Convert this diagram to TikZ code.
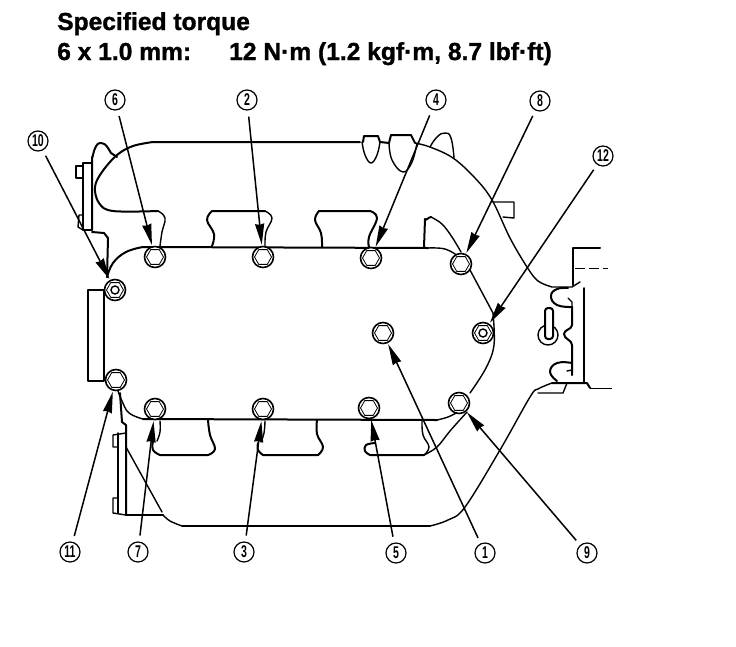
\documentclass[tikz,border=0pt]{standalone}
\usepackage{fontspec}
\setmainfont{Liberation Sans}[BoldFeatures={FakeBold=1.2}]
\newfontfamily\numfont[FakeStretch=0.62]{Liberation Sans}
\usetikzlibrary{arrows.meta,shapes.geometric}

\begin{document}
\begin{tikzpicture}[x=1pt,y=-1pt,
        outline/.style={line width=1.4pt,line join=round,line cap=round},
        heavy/.style={line width=2pt,line join=round,line cap=round},
        fine/.style={line width=0.8pt},
        heading/.style={anchor=base west,inner sep=0pt,font=\bfseries\fontsize{24.6}{24.6}\selectfont},
        hexnut/.style={regular polygon,regular polygon sides=6,draw,line width=0.8pt,
                        inner sep=0pt,minimum size=17pt},
        bolt/.style={circle,draw,fill=white,line width=1.6pt,inner sep=0pt,minimum size=21pt,
                        path picture={\node[hexnut] at (path picture bounding box.center) {};}},
        boltnut/.style={bolt,path picture={\node[hexnut] at (path picture bounding box.center) {};
                        \node[circle,draw,line width=1.4pt,inner sep=0pt,minimum size=8pt]
                        at (path picture bounding box.center) {};}},
        numlabel/.style={circle,draw,line width=1.2pt,inner sep=0pt,minimum size=20pt,
                        font=\numfont\bfseries\fontsize{17}{17}\selectfont},
        pointer/.style={-{Stealth[length=21pt,width=9pt,inset=1pt]},line width=1.5pt,
                        shorten <=6pt,shorten >=1pt}]
        \useasboundingbox (0,0) rectangle (736,646);

        % heading
        \node (title) at (57,30) [heading] {Specified torque};
        \node (size) at (57,60) [heading] {6 x 1.0 mm:};
        \node (spec) at (229,60) [heading] {12 N·m (1.2 kgf·m, 8.7 lbf·ft)};

        % upper manifold
        \draw[heavy] plot[smooth,tension=.6] coordinates {(158,211) (113,211) (99,203) (95,187) (102,172) (117,155) (133,146) (153,142)} -- (360,142);
        \draw[heavy] (363,142) -- (364,136) -- (378,136) -- (380,142) -- (389,143) -- (391,135) -- (411,135) -- (415,143);
        \draw[outline] plot[smooth,tension=.7] coordinates {(362,142) (365,155) (371,163) (377,155) (380,142)};
        \draw[outline] plot[smooth,tension=.7] coordinates {(389,143) (392,160) (403,172) (412,162) (417,143)};
        \draw[outline] plot[smooth,tension=.6] coordinates {(415,143) (430,147) (453,158) (475,178) (492,200) (510,238) (527,267) (538,281) (552,287)} -- (572,287) -- (580,282);
        \draw[outline] plot[smooth,tension=.8] coordinates {(430,147) (437,137) (445,133) (451,138) (454,158)};
        \draw[outline] (493,202) -- (514,202) -- (514,218) -- (503,217);

        % left flange
        \draw[heavy] (92,230) -- (92,157) to[out=-90,in=180] (100,143) to[out=0,in=120] (108,148) -- (111,153) -- (117,157);
        \draw[outline] (92,163) -- (83,163) -- (83,230) -- (92,230);
        \draw[outline] (83,166) -- (76,166) -- (76,178) -- (83,178);
        \draw[outline] (83,215) -- (79,215) -- (78,227) -- (83,230);
        \draw[heavy] (92,232) -- (104,233) -- (108,238) -- (107,277);

        % top runners
        \draw[outline] plot[smooth,tension=.7] coordinates {(158,211) (165,218) (162,232) (160,246)};
        \draw[heavy] plot[smooth,tension=.7] coordinates {(212,246) (214,234) (207,220) (212,211)} -- (265,211);
        \draw[outline] plot[smooth,tension=.7] coordinates {(265,211) (272,218) (266,232) (265,246)};
        \draw[heavy] plot[smooth,tension=.7] coordinates {(322,247) (321,233) (315,220) (319,211)} -- (370,211);
        \draw[heavy] plot[smooth,tension=.7] coordinates {(370,211) (377,218) (369,237) (369,247)};
        \draw[heavy] (424,247) -- (425,219) to[out=-70,in=180] (431,217);
        \draw[outline] plot[smooth,tension=.6] coordinates {(431,217) (442,224) (452,237) (461,252)};

        % gasket plate
        \draw[heavy] plot[smooth,tension=.7] coordinates {(107,277) (113,263) (126,252) (143,247)} -- (428,248);
        \draw[outline] plot[smooth,tension=.7] coordinates {(428,248) (445,249) (458,256)};
        \draw[outline] (470,270) -- (493,313);
        \draw[outline] plot[smooth,tension=.6] coordinates {(493,313) (494,345) (486,368) (470,393)};
        \draw[outline] plot[smooth,tension=.7] coordinates {(458,412) (448,417) (437,420)};
        \draw[heavy] (437,420) -- (143,419);
        \draw[outline] plot[smooth,tension=.7] coordinates {(143,419) (129,413) (122,401) (118,391)};
        \draw[outline] (88,290) -- (104,290) -- (104,381) -- (88,381) -- cycle;

        % bottom runners
        \draw[outline] plot[smooth,tension=.7] coordinates {(160,421) (160,432) (157,441)};
        \draw[heavy] plot[smooth,tension=.7] coordinates {(153,441) (153,450) (160,455)} -- (208,455);
        \draw[heavy] plot[smooth,tension=.7] coordinates {(208,455) (215,449) (210,435) (208,420)};
        \draw[outline] plot[smooth,tension=.7] coordinates {(265,421) (264,433) (261,442)};
        \draw[heavy] plot[smooth,tension=.7] coordinates {(258,443) (258,450) (263,455)} -- (318,455);
        \draw[heavy] plot[smooth,tension=.7] coordinates {(317,420) (317,434) (323,447) (318,455)};
        \draw[heavy] plot[smooth,tension=.7] coordinates {(375,443) (366,445) (365,451) (370,455)} -- (424,455);
        \draw[outline] plot[smooth,tension=.7] coordinates {(422,421) (423,435) (429,447) (424,455)};
        \draw[outline] plot[smooth,tension=.6] coordinates {(424,455) (437,447) (450,431) (467,412)};

        % lower manifold
        \draw[heavy] (120,393) -- (122,422) -- (126,425) -- (126,515);
        \draw[outline] (118,433) -- (118,513);
        \draw[outline] (126,433) -- (113,435) -- (113,447) -- (118,447);
        \draw[outline] (118,498) -- (113,498) -- (113,513) -- (126,515);
        \draw[heavy] (126,515) -- (163,515);
        \draw[outline] (126,447) -- (162,512);
        \draw[outline] plot[smooth,tension=.6] coordinates {(163,515) (170,521) (182,526)};
        \draw[heavy] (182,526) -- (430,526);
        \draw[outline] plot[smooth,tension=.6] coordinates {(430,526) (448,520) (465,507) (500,450) (530,397) (538,389) (552,383)};
        \draw[outline] (538,393) -- (563,393) -- (567,383);
        \draw[heavy] (552,383) -- (587,383) -- (590,388);
        \draw[fine] (590,388) -- (612,388);

        % right housing
        \draw[heavy] (600,248) -- (573,248) -- (573,285);
        \draw[fine,dash pattern=on 10pt off 4pt] (575,268) -- (608,268);
        \draw[heavy] (584,288) -- (584,382);
        \draw[heavy] plot[smooth,tension=.8] coordinates {(568,288) (557,289) (551,296) (557,305) (572,307)};
        \draw[outline] (568,298) -- (572,302) -- (572,307);
        \draw[heavy] (572,307) -- (572,325) to[out=-90,in=90] (564,334) to[out=-90,in=90] (572,345) -- (572,375);
        \draw[heavy] plot[smooth,tension=.8] coordinates {(572,363) (557,363) (550,372) (557,381)};
        \draw[outline] (572,370) -- (567,371);
        \draw[outline] (548,335) circle[radius=10pt];
        \draw[heavy,fill=white,rounded corners=3pt] (545,308) -- (553,308) -- (553,339) -- (545,339) -- cycle;

        % bolts
        \node (b1) at (383,333) [bolt]{};
        \node (b2) at (263,257) [bolt]{};
        \node (b3) at (263,409) [bolt]{};
        \node (b4) at (371,258) [bolt]{};
        \node (b5) at (369,408) [bolt]{};
        \node (b6) at (155,257) [bolt]{};
        \node (b7) at (155,409) [bolt]{};
        \node (b8) at (461,264) [bolt]{};
        \node (b9) at (459,403) [bolt]{};
        \node (b10) at (115,290) [boltnut]{};
        \node (b11) at (116,380) [bolt]{};
        \node (b12) at (483,333) [boltnut]{};

        % sequence numbers
        \node (n1) at (485,553) [numlabel]{1};
        \node (n2) at (247,100) [numlabel]{2};
        \node (n3) at (244,552) [numlabel]{3};
        \node (n4) at (436,100) [numlabel]{4};
        \node (n5) at (396,553) [numlabel]{5};
        \node (n6) at (115,100) [numlabel]{6};
        \node (n7) at (138,552) [numlabel]{7};
        \node (n8) at (540,101) [numlabel]{8};
        \node (n9) at (587,553) [numlabel]{9};
        \node (n10) at (38,141) [numlabel]{10};
        \node (n11) at (70,552) [numlabel]{11};
        \node (n12) at (603,156) [numlabel]{12};

        \path (n1) edge[pointer] (b1);
        \path (n2) edge[pointer] (b2);
        \path (n3) edge[pointer] (b3);
        \path (n4) edge[pointer] (b4);
        \path (n5) edge[pointer] (b5);
        \path (n6) edge[pointer] (b6);
        \path (n7) edge[pointer] (b7);
        \path (n8) edge[pointer] (b8);
        \path (n9) edge[pointer] (b9);
        \path (n10) edge[pointer] (b10);
        \path (n11) edge[pointer] (b11);
        \path (n12) edge[pointer] (b12);
    \end{tikzpicture}
\end{document}
